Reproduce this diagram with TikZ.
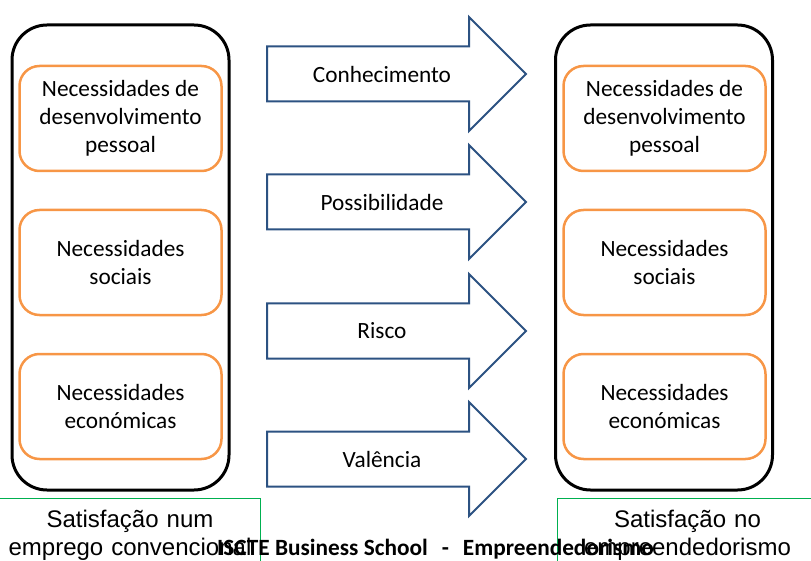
\documentclass[tikz,border=0pt]{standalone}
\usepackage{fontspec}
\setmainfont{Carlito}
\newfontfamily\arialfont{Liberation Sans}
\definecolor{needorange}{RGB}{247,150,70}
\definecolor{arrowblue}{RGB}{44,82,130}
\definecolor{capgreen}{RGB}{0,176,80}
\begin{document}
\begin{tikzpicture}[x=1pt, y=-1pt,
		outerbox/.style={draw=black, line width=3pt, rounded corners=35pt, minimum width=217pt, minimum height=465pt, inner sep=0pt},
		needbox/.style={draw=needorange, line width=2.5pt, rounded corners=20pt, minimum width=202pt, minimum height=105pt, inner sep=0pt, align=center, font=\fontsize{23.3}{28}\selectfont},
		flowarrow/.style={draw=arrowblue, line width=2pt, fill=white, line join=miter},
		flowlabel/.style={inner sep=0pt, font=\fontsize{23.3}{28}\selectfont},
		capbox/.style={draw=capgreen, line width=1pt},
		captext/.style={inner sep=0pt, text width=260pt, align=center, font=\arialfont\fontsize{24}{28}\selectfont}]
	\useasboundingbox (0,0) rectangle (811,561);
	\clip (0,0) rectangle (811,561);
	
	\node[outerbox] at (120.5,257.5) (leftframe) {};
	\node[needbox] at (120.5,118.5) (lpersonal) {Necessidades de\\desenvolvimento\\pessoal};
	\node[needbox] at (120.5,262.5) (lsocial) {Necessidades\\sociais};
	\node[needbox] at (120.5,406.5) (leconomic) {Necessidades\\económicas};
	
	\node[outerbox] at (664,257.5) (rightframe) {};
	\node[needbox] at (664.5,118.5) (rpersonal) {Necessidades de\\desenvolvimento\\pessoal};
	\node[needbox] at (664.5,262.5) (rsocial) {Necessidades\\sociais};
	\node[needbox] at (664.5,406.5) (reconomic) {Necessidades\\económicas};
	
	\draw[flowarrow] (267,46.5) -- (469,46.5) -- (469,17) -- (526,74) -- (469,131) -- (469,101.5) -- (267,101.5) -- cycle;
	\node[flowlabel] at (382,74) (knowledge) {Conhecimento};
	\draw[flowarrow] (267,174.5) -- (469,174.5) -- (469,145) -- (526,202) -- (469,259) -- (469,229.5) -- (267,229.5) -- cycle;
	\node[flowlabel] at (382,202) (possibility) {Possibilidade};
	\draw[flowarrow] (267,303.5) -- (469,303.5) -- (469,274) -- (526,331) -- (469,388) -- (469,358.5) -- (267,358.5) -- cycle;
	\node[flowlabel] at (382,331) (risk) {Risco};
	\draw[flowarrow] (267,431.5) -- (469,431.5) -- (469,402) -- (526,459) -- (469,516) -- (469,486.5) -- (267,486.5) -- cycle;
	\node[flowlabel] at (382,459) (valence) {Valência};
	
	\draw[capbox] (-2,498) rectangle (260,600);
	\node[captext, anchor=base] at (130,527) (leftcaption) {Satisfação num\\emprego convencional};
	\draw[capbox] (557,498) rectangle (818,600);
	\node[captext, anchor=base] at (687.5,527) (rightcaption) {Satisfação no\\empreendedorismo};
	
	\node[inner sep=0pt, anchor=base west, font=\bfseries\fontsize{23.3}{28}\selectfont] at (217,555) (footer) {ISCTE Business School\hspace{14pt}-\hspace{14pt}Empreendedorismo};
\end{tikzpicture}
\end{document}
